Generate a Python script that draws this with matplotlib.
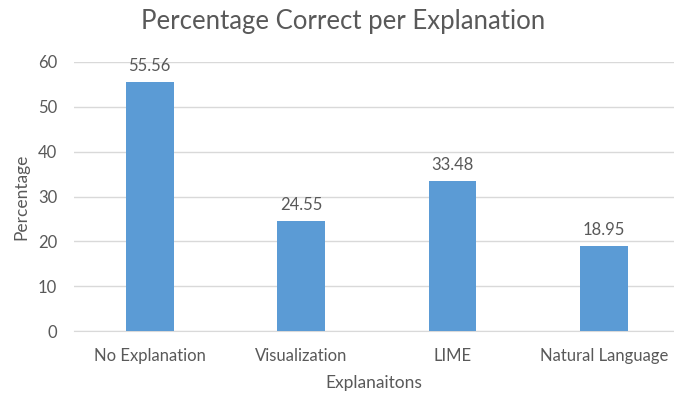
import matplotlib
matplotlib.use("Agg")
import matplotlib.pyplot as plt

categories = ["No Explanation", "Visualization", "LIME", "Natural Language"]
percent_correct = [55.56, 24.55, 33.48, 18.95]
y_ticks = [0, 10, 20, 30, 40, 50, 60]

text_grey = "#595959"
bar_blue = "#5B9BD5"
grid_grey = "#D9D9D9"

plt.rcParams["font.family"] = ["Lato", "DejaVu Sans"]

W, H = 674, 396
fig = plt.figure(figsize=(W / 100, H / 100), dpi=100)
ax = fig.add_axes([74 / W, 65 / H, (W - 74) / W, 269 / H])

x = range(len(categories))
bars = ax.bar(x, percent_correct, width=0.317, color=bar_blue, zorder=3)
for rect, v in zip(bars, percent_correct):
    ax.annotate(f"{v:.2f}", (rect.get_x() + rect.get_width() / 2, v),
                xytext=(0, 6), textcoords="offset points",
                ha="center", va="bottom", fontsize=12, color=text_grey)

ax.set_xlim(-0.5, 3.463)
ax.set_ylim(0, 60)
ax.set_yticks(y_ticks)
ax.set_xticks(list(x))
ax.set_xticklabels(categories)
ax.tick_params(axis="both", length=0, colors=text_grey, labelsize=12)
ax.tick_params(axis="x", pad=12)
ax.tick_params(axis="y", pad=12)
ax.grid(axis="y", color=grid_grey, linewidth=1, zorder=0)
for side in ["top", "right", "left"]:
    ax.spines[side].set_visible(False)
ax.spines["bottom"].set_color(grid_grey)

ax.set_ylabel("Percentage", fontsize=12.5, color=text_grey, labelpad=6)
ax.set_xlabel("Explanaitons", fontsize=12.5, color=text_grey, labelpad=8)
fig.text(343 / W, 1 - 22 / H, "Percentage Correct per Explanation",
         ha="center", va="center", fontsize=18.5, color=text_grey)

fig.savefig("out.png", dpi=100)
